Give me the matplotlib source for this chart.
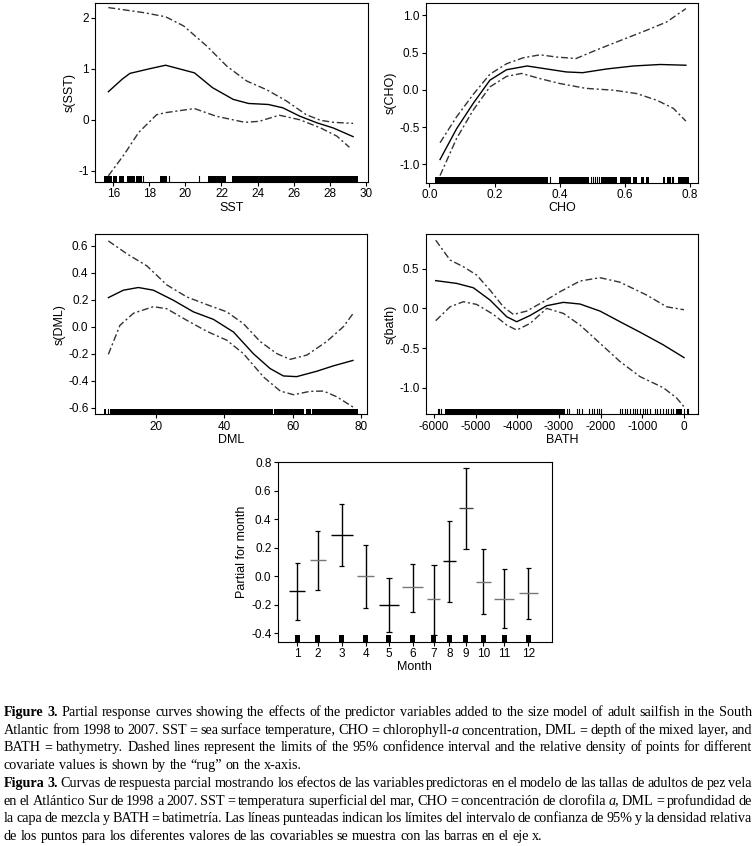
import matplotlib
matplotlib.use("Agg")
import matplotlib.pyplot as plt

plt.rcParams['font.family'] = ['Liberation Sans Narrow', 'Liberation Sans', 'DejaVu Sans']
plt.rcParams['axes.unicode_minus'] = False

W, H = 755, 846

# SST panel
sst_x = [15.72, 16.5, 16.92, 18.0, 18.9, 20.5, 21.5, 22.65, 23.5, 24.6, 25.4, 26.35, 27.3, 28.2, 29.3]
sst_fit = [0.55, 0.80, 0.91, 1.00, 1.07, 0.92, 0.63, 0.40, 0.32, 0.30, 0.235, 0.07, -0.06, -0.16, -0.33]
sst_hi_x = [15.72, 17.7, 18.9, 19.9, 21.2, 22.3, 23.4, 24.5, 25.6, 26.7, 27.5, 28.2, 29.3]
sst_hi = [2.20, 2.10, 2.02, 1.84, 1.44, 1.05, 0.76, 0.59, 0.37, 0.10, -0.01, -0.05, -0.07]
sst_lo_x = [15.72, 16.6, 17.4, 18.4, 18.9, 20.5, 21.7, 23.3, 24.1, 25.2, 26.35, 27.5, 28.4, 29.1]
sst_lo = [-1.10, -0.68, -0.25, 0.10, 0.14, 0.22, 0.07, -0.05, -0.03, 0.09, 0.0, -0.16, -0.32, -0.54]
sst_rug_spans = [(15.50, 15.94), (16.0, 16.22), (16.31, 16.59), (16.78, 17.20), (17.26, 17.57),
                 (18.59, 19.0), (21.27, 22.25), (22.60, 29.56)]
sst_rug_lines = [17.63, 19.1, 20.73]

# CHO panel
cho_x = [0.033, 0.084, 0.135, 0.186, 0.237, 0.30, 0.36, 0.42, 0.47, 0.544, 0.626, 0.708, 0.787]
cho_fit = [-0.935, -0.52, -0.18, 0.13, 0.27, 0.32, 0.28, 0.24, 0.23, 0.28, 0.32, 0.34, 0.33]
cho_hi_x = [0.033, 0.084, 0.135, 0.186, 0.237, 0.288, 0.34, 0.39, 0.45, 0.51, 0.585, 0.667, 0.728, 0.787]
cho_hi = [-0.71, -0.36, -0.06, 0.21, 0.35, 0.43, 0.47, 0.44, 0.42, 0.53, 0.66, 0.80, 0.91, 1.09]
cho_lo_x = [0.033, 0.084, 0.135, 0.186, 0.237, 0.283, 0.34, 0.40, 0.48, 0.565, 0.636, 0.698, 0.749, 0.787]
cho_lo = [-1.15, -0.65, -0.27, 0.04, 0.18, 0.22, 0.15, 0.085, 0.02, -0.005, -0.05, -0.14, -0.25, -0.42]
cho_rug_spans = [(0.017, 0.365), (0.398, 0.49), (0.526, 0.575), (0.586, 0.62), (0.625, 0.637),
                 (0.648, 0.66), (0.665, 0.673), (0.716, 0.722), (0.728, 0.74), (0.762, 0.795)]
cho_rug_lines = [0.370, 0.496, 0.502, 0.508, 0.515, 0.52, 0.743, 0.748]

# DML panel
dml_x = [6.0, 10.4, 14.8, 19.2, 25.1, 30.9, 36.8, 42.7, 48.5, 53.4, 57.3, 61.2, 67.1, 72.0, 77.7]
dml_fit = [0.215, 0.27, 0.29, 0.27, 0.195, 0.11, 0.054, -0.04, -0.20, -0.31, -0.365, -0.37, -0.33, -0.29, -0.25]
dml_hi_x = [6.0, 11.4, 17.3, 23.1, 29.0, 34.9, 40.7, 45.6, 50.5, 55.4, 59.3, 64.2, 70.0, 74.9, 77.7]
dml_hi = [0.635, 0.54, 0.45, 0.31, 0.22, 0.163, 0.11, 0.022, -0.11, -0.20, -0.242, -0.21, -0.11, 0.0, 0.096]
dml_lo_x = [6.0, 9.4, 13.4, 19.2, 23.1, 29.0, 34.9, 40.7, 45.6, 51.5, 56.4, 60.3, 65.1, 69.1, 73.0, 77.7]
dml_lo = [-0.205, 0.01, 0.10, 0.148, 0.133, 0.047, -0.035, -0.10, -0.20, -0.373, -0.477, -0.504, -0.479, -0.477, -0.52, -0.595]
dml_rug_spans = [(4.85, 5.34), (6.6, 54.2), (54.6, 63.4), (63.9, 65.3), (65.8, 79.1)]
dml_rug_lines = [6.0]

# BATH panel
bath_x = [-5960, -5456, -5056, -4656, -4256, -4016, -3696, -3296, -2896, -2496, -2016, -1536, -1056, -496, 0]
bath_fit = [0.35, 0.315, 0.26, 0.105, -0.105, -0.168, -0.09, 0.034, 0.076, 0.055, -0.034, -0.168, -0.30, -0.46, -0.62]
bath_hi_x = [-5960, -5616, -5296, -4976, -4656, -4336, -4096, -3776, -3376, -2976, -2496, -2016, -1536, -896, -416, 0]
bath_hi = [0.86, 0.61, 0.525, 0.42, 0.23, 0.02, -0.076, -0.034, 0.084, 0.21, 0.345, 0.387, 0.33, 0.168, 0.02, -0.017]
bath_lo_x = [-5960, -5616, -5296, -4976, -4576, -4256, -4016, -3696, -3296, -2896, -2496, -2016, -1536, -1056, -496, -176, 0]
bath_lo = [-0.155, 0.02, 0.084, 0.05, -0.076, -0.21, -0.273, -0.19, 0.0, -0.063, -0.21, -0.44, -0.67, -0.86, -1.0, -1.13, -1.24]
bath_rug_spans = [(-5736, -2860), (-200, -60)]
bath_rug_lines = [-5896, -5872, -5832, -2816, -2760, -2576, -2512, -2456, -2272, -2216, -2160, -2096,
                  -2032, -2000, -1536, -1480, -1416, -1360, -1296, -1232, -1176, -1120, -1056, -992,
                  -936, -880, -816, -696, -640, -576, -496, -440, -376, -320, -256, 0, 60, 100]

# Month panel
months = ['1', '2', '3', '4', '5', '6', '7', '8', '9', '10', '11', '12']
month_pos = [7.15, 14.6, 23.3, 32.1, 40.5, 49.2, 56.9, 62.6, 68.6, 75.0, 82.6, 91.4]
month_est = [-0.107, 0.111, 0.287, -0.002, -0.205, -0.079, -0.164, 0.106, 0.477, -0.039, -0.161, -0.121]
month_hi = [0.092, 0.315, 0.505, 0.221, -0.016, 0.088, 0.077, 0.39, 0.762, 0.19, 0.047, 0.054]
month_lo = [-0.309, -0.100, 0.069, -0.227, -0.395, -0.25, -0.415, -0.184, 0.188, -0.266, -0.367, -0.299]
month_w = [5.7, 5.8, 8.0, 6.2, 7.2, 7.5, 4.9, 4.6, 5.0, 5.7, 7.3, 7.0]
month_col = ['black', '#777777', 'black', '#777777', 'black', '#777777', '#777777', 'black',
             '#444444', '#777777', '#777777', '#777777']

caption_lines = [
    ("b:Figure b:3. Partial response curves showing the effects of the predictor variables added to the size model of adult sailfish in the South", True),
    ("Atlantic from 1998 to 2007. SST = sea surface temperature, CHO = chlorophyll-|i:a concentration, DML = depth of the mixed layer, and", True),
    ("BATH = bathymetry. Dashed lines represent the limits of the 95% confidence interval and the relative density of points for different", True),
    ("covariate values is shown by the \u201crug\u201d on the x-axis.", False),
    ("b:Figura b:3. Curvas de respuesta parcial mostrando los efectos de las variables predictoras en el modelo de las tallas de adultos de pez vela", True),
    ("en el Atl\u00e1ntico Sur de 1998 a 2007. SST = temperatura superficial del mar, CHO = concentraci\u00f3n de clorofila i:a, DML = profundidad de", True),
    ("la capa de mezcla y BATH = batimetr\u00eda. Las l\u00edneas punteadas indican los l\u00edmites del intervalo de confianza de 95% y la densidad relativa", True),
    ("de los puntos para los diferentes valores de las covariables se muestra con las barras en el eje x.", False),
]

FS = 8.5
DASH = (0, (5, 2, 1.5, 2))

fig = plt.figure(figsize=(W / 100, H / 100), dpi=100)


def px_axes(x0, y0, x1, y1):
    return fig.add_axes([x0 / W, 1 - y1 / H, (x1 - x0) / W, (y1 - y0) / H])


def style_axes(ax, xlim, ylim, xticks, yticks, xlabel, ylabel, yfmt):
    ax.set_xlim(*xlim)
    ax.set_ylim(*ylim)
    ax.set_xticks(xticks)
    ax.set_yticks(yticks)
    ax.set_yticklabels([yfmt.format(v) for v in yticks])
    ax.tick_params(direction='out', length=3, width=0.8, labelsize=FS, pad=1.5)
    ax.set_xlabel(xlabel, fontsize=FS + 0.5, labelpad=1)
    ax.set_ylabel(ylabel, fontsize=FS + 0.5, labelpad=2)
    for s in ax.spines.values():
        s.set_linewidth(0.8)


def curve_panel(rect, xs, fit, hx, hi, lx, lo, spans, lines, rug_h, **kw):
    ax = px_axes(*rect)
    ax.plot(xs, fit, color='black', lw=1.0)
    ax.plot(hx, hi, color='#333333', lw=1.0, ls=DASH)
    ax.plot(lx, lo, color='#333333', lw=1.0, ls=DASH)
    for a, b in spans:
        ax.axvspan(a, b, ymin=0, ymax=rug_h, color='black', lw=0)
    for v in lines:
        ax.axvline(v, ymin=0, ymax=rug_h, color='black', lw=0.8)
    style_axes(ax, **kw)
    return ax


curve_panel((95, 3, 368, 182), sst_x, sst_fit, sst_hi_x, sst_hi, sst_lo_x, sst_lo,
            sst_rug_spans, sst_rug_lines, 0.036,
            xlim=(14.98, 30.13), ylim=(-1.22, 2.29), xticks=range(16, 31, 2),
            yticks=[-1, 0, 1, 2], xlabel='SST', ylabel='s(SST)', yfmt='{:g}')
curve_panel((425.7, 3, 698.3, 182.7), cho_x, cho_fit, cho_hi_x, cho_hi, cho_lo_x, cho_lo,
            cho_rug_spans, cho_rug_lines, 0.03,
            xlim=(-0.011, 0.825), ylim=(-1.246, 1.165), xticks=[0.0, 0.2, 0.4, 0.6, 0.8],
            yticks=[-1.0, -0.5, 0.0, 0.5, 1.0], xlabel='CHO', ylabel='s(CHO)', yfmt='{:.1f}')
curve_panel((94.7, 234.3, 367.3, 414.3), dml_x, dml_fit, dml_hi_x, dml_hi, dml_lo_x, dml_lo,
            dml_rug_spans, dml_rug_lines, 0.03,
            xlim=(2.0, 81.9), ylim=(-0.649, 0.684), xticks=[20, 40, 60, 80],
            yticks=[-0.6, -0.4, -0.2, 0.0, 0.2, 0.4, 0.6], xlabel='DML', ylabel='s(DML)', yfmt='{:.1f}')
curve_panel((425.7, 234.3, 698.3, 414.3), bath_x, bath_fit, bath_hi_x, bath_hi, bath_lo_x, bath_lo,
            bath_rug_spans, bath_rug_lines, 0.03,
            xlim=(-6200, 343), ylim=(-1.335, 0.934), xticks=range(-6000, 1, 1000),
            yticks=[-1.0, -0.5, 0.0, 0.5], xlabel='BATH', ylabel='s(bath)', yfmt='{:.1f}')

# month panel
ax = px_axes(277.7, 462.3, 552, 641.7)
for p, e, h, l, w, c in zip(month_pos, month_est, month_hi, month_lo, month_w, month_col):
    ax.vlines(p, l, h, color='black', lw=1.0)
    ax.hlines([l, h], p - 1.0, p + 1.0, color='black', lw=0.9)
    ax.hlines(e, p - w / 2, p + w / 2, color=c, lw=1.0)
    ax.bar(p, 0.06, width=1.9, bottom=-0.475, color='black', lw=0)
style_axes(ax, xlim=(0, 100), ylim=(-0.461, 0.8), xticks=month_pos,
           yticks=[-0.4, -0.2, 0.0, 0.2, 0.4, 0.6, 0.8], xlabel='Month',
           ylabel='Partial for month', yfmt='{:.1f}')
ax.set_xticklabels(months)


# caption, justified word by word
def parse_word(word):
    segs = []
    for part in word.split('|'):
        weight, style = 'normal', 'normal'
        if part.startswith('b:'):
            weight, part = 'bold', part[2:]
        elif part.startswith('i:'):
            style, part = 'italic', part[2:]
        segs.append((part, weight, style))
    return segs


renderer = fig.canvas.get_renderer()
left_px, right_px = 4, 752
top_base, step = 716, 17.7

# pick the caption size so the first line fills the width with ordinary spaces
probe_text = caption_lines[0][0].replace('b:', '').replace('i:', '').replace('|', '')
probe = fig.text(0, 0, probe_text, fontsize=10, family='Liberation Serif')
cap_fs = 10 * (right_px - left_px - 6) / probe.get_window_extent(renderer).width
probe.remove()
space_w = 0.25 * cap_fs * 100 / 72

for i, (line, justify) in enumerate(caption_lines):
    yb = 1 - (top_base + i * step) / H
    words = []
    for word in line.split(' '):
        segs = []
        for txt, weight, style in parse_word(word):
            t = fig.text(0, yb, txt, fontsize=cap_fs, family='Liberation Serif',
                         weight=weight, style=style, va='baseline', ha='left')
            segs.append((t, t.get_window_extent(renderer).width))
        words.append(segs)
    total = sum(w for segs in words for _, w in segs)
    gap = (right_px - left_px - total) / (len(words) - 1) if justify else space_w
    x = left_px
    for segs in words:
        for t, w in segs:
            t.set_x(x / W)
            x += w
        x += gap

fig.savefig('out.png', dpi=100)
